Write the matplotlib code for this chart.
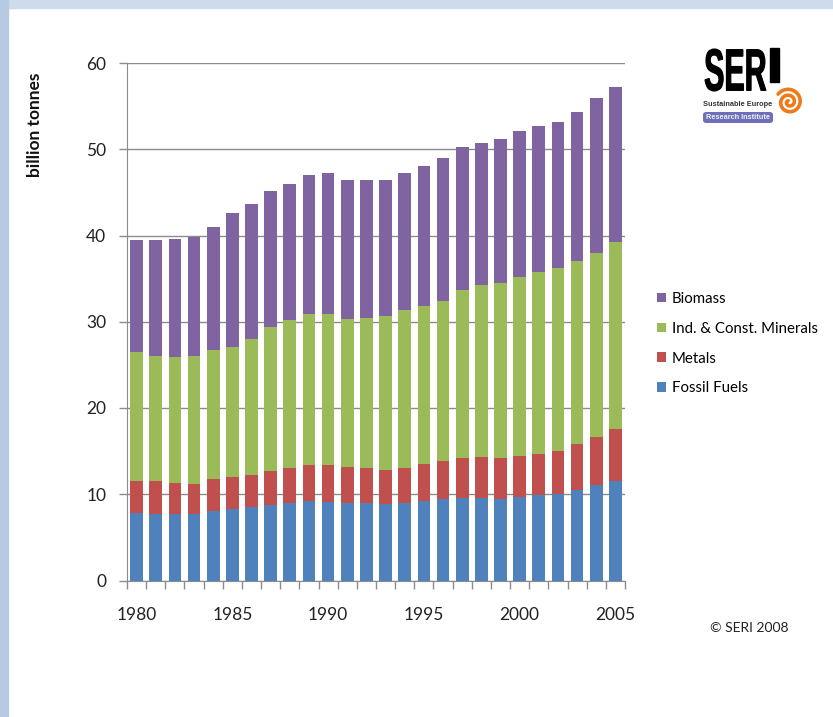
import numpy as np
import matplotlib
matplotlib.use("Agg")
import matplotlib.pyplot as plt
from matplotlib.patches import Rectangle, PathPatch, FancyBboxPatch
from matplotlib.textpath import TextPath
from matplotlib.font_manager import FontProperties
import matplotlib.transforms as mtransforms

# global material extraction, billion tonnes
years = list(range(1980, 2006))
fossil_fuels = [7.81, 7.74, 7.70, 7.74, 8.09, 8.28, 8.55, 8.74, 8.97, 9.17,
                9.05, 8.97, 8.94, 8.88, 9.03, 9.26, 9.42, 9.57, 9.57, 9.46,
                9.69, 9.88, 10.07, 10.50, 11.08, 11.54]
metals = [3.72, 3.75, 3.56, 3.48, 3.67, 3.67, 3.64, 3.91, 4.11, 4.21,
          4.33, 4.18, 4.06, 3.94, 3.99, 4.22, 4.45, 4.65, 4.72, 4.76,
          4.80, 4.84, 4.96, 5.30, 5.53, 6.00]
minerals = [14.93, 14.58, 14.62, 14.78, 15.01, 15.17, 15.86, 16.75, 17.17, 17.52,
            17.52, 17.18, 17.45, 17.80, 18.37, 18.37, 18.53, 19.49, 20.01, 20.27,
            20.69, 21.01, 21.24, 21.24, 21.36, 21.66]
biomass = [13.04, 13.43, 13.77, 13.85, 14.17, 15.49, 15.60, 15.72, 15.68, 16.08,
           16.31, 16.07, 15.95, 15.78, 15.90, 16.17, 16.55, 16.60, 16.47, 16.75,
           16.98, 16.97, 16.93, 17.29, 17.99, 18.03]

series = [("Fossil Fuels", fossil_fuels, "#4F81BD"),
          ("Metals", metals, "#C0504D"),
          ("Ind. & Const. Minerals", minerals, "#9BBB59"),
          ("Biomass", biomass, "#8064A2")]

W, H = 833, 717
plt.rcParams['font.family'] = ['Lato', 'DejaVu Sans']
fig = plt.figure(figsize=(W / 100, H / 100), dpi=100)
fig.patch.set_facecolor("white")

# light blue slide frame
fig.patches.append(Rectangle((0, 1 - 8 / H), 1, 8 / H, transform=fig.transFigure,
                             color="#CEDBEC", zorder=0))
fig.patches.append(Rectangle((0, 0), 8 / W, 1, transform=fig.transFigure,
                             color="#B7CAE4", zorder=0))

ax = fig.add_axes([127 / W, 1 - 580.5 / H, (625 - 127) / W, (580.5 - 63) / H])

x = np.arange(len(years))
bottom = np.zeros(len(years))
handles = []
for name, vals, col in series:
    b = ax.bar(x, vals, width=0.66, bottom=bottom, color=col, label=name, zorder=3)
    handles.append(b)
    bottom += np.array(vals)

ax.set_xlim(-0.5, len(years) - 0.5)
ax.set_ylim(0, 60)
ax.set_yticks(range(0, 61, 10))
ax.yaxis.grid(True, color="#8C8C8C", linewidth=1, zorder=0)
ax.set_axisbelow(True)

label_idx = [i for i, y in enumerate(years) if y % 5 == 0]
ax.set_xticks(label_idx)
ax.set_xticklabels([str(years[i]) for i in label_idx])
ax.set_xticks(np.arange(-0.5, len(years), 1.0), minor=True)
ax.tick_params(axis="x", which="major", length=0, pad=19, labelsize=12.5, labelcolor="#222222")
ax.tick_params(axis="x", which="minor", length=6, width=1, color="#8C8C8C")
ax.tick_params(axis="y", length=6, width=1, color="#8C8C8C", labelsize=12.5,
               labelcolor="#222222", pad=9)

for side in ("top", "right"):
    ax.spines[side].set_visible(False)
for side in ("left", "bottom"):
    ax.spines[side].set_color("#8C8C8C")

ax.set_ylabel("billion tonnes", fontsize=12.5, fontweight="bold", color="#111111")
ax.yaxis.set_label_coords(-0.168, 0.88)

# legend, biomass on top
leg = fig.legend(handles[::-1], [s[0] for s in series][::-1],
                 loc="upper left", bbox_to_anchor=(651 / W, 1 - 286 / H),
                 frameon=False, fontsize=10.8, handlelength=0.6, handleheight=0.6,
                 handletextpad=0.4, labelspacing=1.05, borderaxespad=0)

fig.text(710 / W, 1 - 628 / H, "\u00a9 SERI 2008", fontsize=10, va="center",
         ha="left", color="#222222")

# SERI logo
prop = FontProperties(family="Liberation Sans", weight="bold")
tp = TextPath((0, 0), "SER", size=1, prop=prop)
bb = tp.get_extents()
x0, x1, ytop, ybot = 705, 766, 49, 91
tr = (mtransforms.Affine2D().translate(-bb.x0, -bb.y0)
      .scale((x1 - x0) / bb.width / W, (ybot - ytop) / bb.height / H)
      .translate(x0 / W, 1 - ybot / H) + fig.transFigure)
fig.patches.append(PathPatch(tp, transform=tr, facecolor="black", edgecolor="black",
                             linewidth=0.8))
fig.patches.append(Rectangle((770 / W, 1 - 82 / H), 9 / W, 34 / H,
                             transform=fig.transFigure, color="black"))

# orange spiral under the I
t = np.linspace(0, 4.1 * np.pi, 300)
r = 1.5 + 12.0 * t / t.max()
sx = (789 + r * np.cos(t + 2.2)) / 100
sy = (H - 102 + r * np.sin(t + 2.2)) / 100
fig.lines.append(plt.Line2D(sx, sy, transform=fig.dpi_scale_trans,
                            color="#F07A1A", linewidth=2.6, solid_capstyle="round"))

fig.text(703 / W, 1 - 104 / H, "Sustainable Europe", fontsize=5.3, fontweight="bold",
         family="Liberation Sans", color="#333333", va="center", ha="left")
fig.patches.append(FancyBboxPatch((703 / W, 1 - 123 / H), 70 / W, 11 / H,
                                  boxstyle="round,pad=0,rounding_size=0.004",
                                  transform=fig.transFigure, facecolor="#6D6FB8",
                                  edgecolor="none"))
fig.text(706 / W, 1 - 117.5 / H, "Research Institute", fontsize=5.3, fontweight="bold",
         family="Liberation Sans", color="#F0F0FA", va="center", ha="left")

fig.savefig("out.png", dpi=100, facecolor=fig.get_facecolor())
